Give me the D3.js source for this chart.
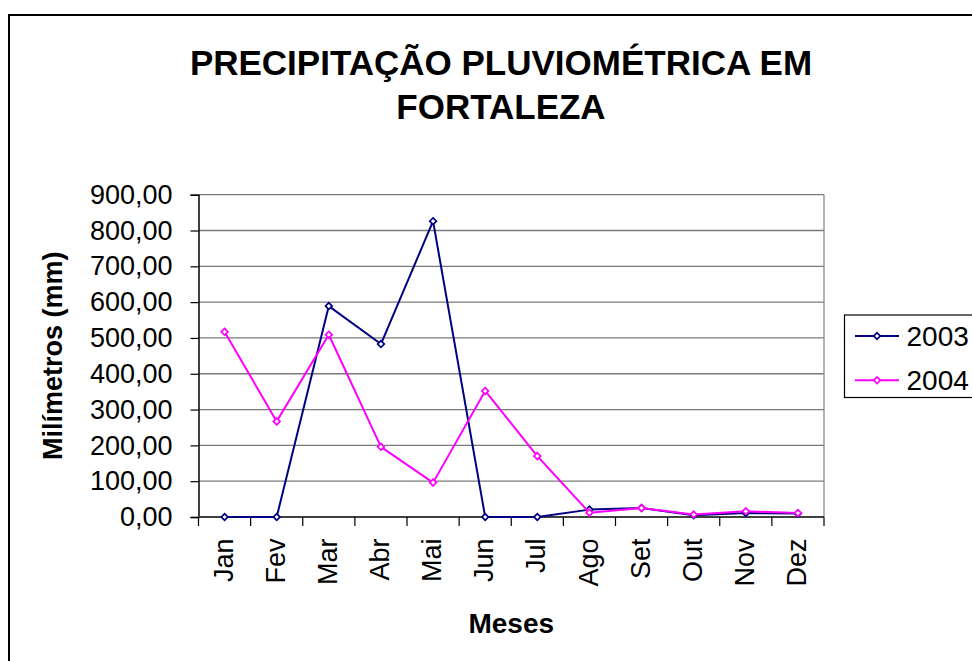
<!DOCTYPE html>
<html>
<head>
<meta charset="utf-8">
<script src="https://cdn.jsdelivr.net/npm/d3@7"></script>
<style>
  html, body { margin: 0; padding: 0; background: #fff; }
  svg { display: block; font-family: "Liberation Sans", Arial, sans-serif; }
</style>
</head>
<body>
<svg id="chart" width="972" height="661"></svg>
<script>
const months = ["Jan", "Fev", "Mar", "Abr", "Mai", "Jun", "Jul", "Ago", "Set", "Out", "Nov", "Dez"];
const values2003 = [0, 0, 589, 483, 826, 0, 0, 20.6, 25, 5, 11, 10];
const values2004 = [517, 267, 509, 196, 96, 352, 170, 12, 25, 6.7, 16, 11];
const yTicks = [0, 100, 200, 300, 400, 500, 600, 700, 800, 900];
const seriesNames = ["2003", "2004"];
const seriesColors = ["#000080", "#FF00FF"];
const titleLines = ["PRECIPITAÇÃO PLUVIOMÉTRICA EM", "FORTALEZA"];
const yTitle = "Milímetros (mm)";
const xTitle = "Meses";

const svg = d3.select("#chart");

// Outer chart frame (extends beyond the window on the right and bottom)
svg.append("rect")
  .attr("x", 9).attr("y", 15).attr("width", 1000).attr("height", 700)
  .attr("fill", "#fff").attr("stroke", "#000").attr("stroke-width", 2);

const pLeft = 198.5, pRight = 824, pTop = 194.7, pBottom = 517;

const x = d3.scaleBand().domain(months).range([pLeft, pRight]).padding(0);
const y = d3.scaleLinear().domain([0, 900]).range([pBottom, pTop]);
const cx = d => x(d) + x.bandwidth() / 2;

// Gridlines
svg.append("g").selectAll("line")
  .data(yTicks.filter(t => t > 0))
  .join("line")
  .attr("x1", pLeft).attr("x2", pRight)
  .attr("y1", d => y(d)).attr("y2", d => y(d))
  .attr("stroke", "#7a7a7a").attr("stroke-width", 1.3);

// Right border of plot area
svg.append("line")
  .attr("x1", pRight).attr("x2", pRight).attr("y1", y(900)).attr("y2", y(0))
  .attr("stroke", "#8a8a8a").attr("stroke-width", 1.3);

// Y axis
const yAxis = d3.axisLeft(y)
  .tickValues(yTicks)
  .tickSize(8)
  .tickPadding(18)
  .tickFormat(d => d3.format(".2f")(d).replace(".", ","));
const gy = svg.append("g").attr("transform", `translate(${pLeft},0)`).call(yAxis);
gy.select(".domain").attr("stroke", "#000").attr("stroke-width", 1.5);
gy.selectAll(".tick line").attr("stroke", "#000").attr("stroke-width", 1.2);
gy.selectAll(".tick text")
  .attr("font-size", 27).attr("fill", "#000")
  .attr("font-family", "Liberation Sans, Arial, sans-serif");

// X axis (ticks at category boundaries)
const xAxisG = svg.append("g");
xAxisG.append("line")
  .attr("x1", pLeft).attr("x2", pRight).attr("y1", pBottom).attr("y2", pBottom)
  .attr("stroke", "#404040").attr("stroke-width", 2);
const boundaries = months.map(m => x(m)).concat([pRight]);
xAxisG.selectAll("line.tk")
  .data(boundaries)
  .join("line").attr("class", "tk")
  .attr("x1", d => d).attr("x2", d => d)
  .attr("y1", pBottom).attr("y2", pBottom + 9)
  .attr("stroke", "#000").attr("stroke-width", 1.2);
xAxisG.selectAll("text")
  .data(months)
  .join("text")
  .attr("transform", d => `translate(${cx(d)},538.5) rotate(-90)`)
  .attr("text-anchor", "end")
  .attr("dy", "0.3em")
  .attr("font-size", 27)
  .attr("fill", "#000")
  .text(d => d);

// Lines and markers
const allSeries = [values2003, values2004];
const line = d3.line().x((d, i) => cx(months[i])).y(d => y(d));
const marker = d3.symbol().type(d3.symbolSquare).size(22);
allSeries.forEach((vals, si) => {
  svg.append("path")
    .datum(vals)
    .attr("d", line)
    .attr("fill", "none")
    .attr("stroke", seriesColors[si])
    .attr("stroke-width", 2)
    .attr("stroke-linejoin", "round");
  svg.append("g").selectAll("path")
    .data(vals)
    .join("path")
    .attr("transform", (d, i) => `translate(${cx(months[i])},${y(d)}) rotate(45)`)
    .attr("d", marker)
    .attr("fill", "#fff")
    .attr("stroke", seriesColors[si])
    .attr("stroke-width", 1.7);
});

// Title
svg.append("text")
  .attr("x", 501).attr("text-anchor", "middle")
  .attr("font-size", 35).attr("font-weight", "bold").attr("fill", "#000")
  .selectAll("tspan")
  .data(titleLines)
  .join("tspan")
  .attr("x", 501)
  .attr("y", (d, i) => 75 + i * 43.5)
  .text(d => d);

// Y axis title
svg.append("text")
  .attr("transform", `translate(61.5,${(pTop + pBottom) / 2}) rotate(-90)`)
  .attr("text-anchor", "middle")
  .attr("font-size", 27).attr("font-weight", "bold").attr("fill", "#000")
  .text(yTitle);

// X axis title
svg.append("text")
  .attr("x", (pLeft + pRight) / 2).attr("y", 633)
  .attr("text-anchor", "middle")
  .attr("font-size", 28).attr("font-weight", "bold").attr("fill", "#000")
  .text(xTitle);

// Legend
const legend = svg.append("g");
legend.append("rect")
  .attr("x", 844.5).attr("y", 315).attr("width", 200).attr("height", 82.5)
  .attr("fill", "#fff").attr("stroke", "#000").attr("stroke-width", 1.2);
seriesNames.forEach((name, i) => {
  const ly = 336 + i * 44.3;
  legend.append("line")
    .attr("x1", 855).attr("x2", 899).attr("y1", ly).attr("y2", ly)
    .attr("stroke", seriesColors[i]).attr("stroke-width", 2);
  legend.append("path")
    .attr("transform", `translate(877,${ly}) rotate(45)`)
    .attr("d", marker)
    .attr("fill", "#fff")
    .attr("stroke", seriesColors[i]).attr("stroke-width", 1.7);
  legend.append("text")
    .attr("x", 906.5).attr("y", ly + 9.5)
    .attr("font-size", 28).attr("fill", "#000")
    .text(name);
});
</script>
</body>
</html>
